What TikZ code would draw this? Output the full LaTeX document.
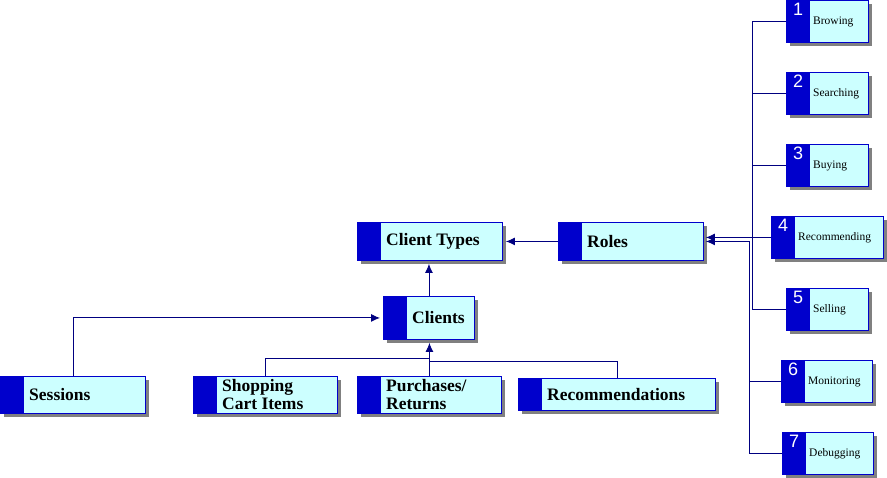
\documentclass[tikz,border=0pt]{standalone}
\usepackage{fontspec}
\setmainfont{Liberation Serif}
\setsansfont{Liberation Sans}
\usepackage{tikz}
\usetikzlibrary{shadows,arrows.meta,calc}

\definecolor{bandblue}{HTML}{0000CC}
\definecolor{boxcyan}{HTML}{CCFFFF}
\definecolor{linenavy}{HTML}{000080}
\definecolor{shadowgray}{HTML}{808080}

\tikzset{
  entity/.style 2 args={draw=bandblue, fill=boxcyan, line width=0.9pt, rectangle,
    inner sep=0pt, anchor=north west, minimum width=#1, minimum height=#2,
    path picture={\fill[bandblue] (path picture bounding box.north west)
      rectangle ([xshift=24pt]path picture bounding box.south west);},
    drop shadow={shadow xshift=3.5pt, shadow yshift=-3.5pt, fill=shadowgray, opacity=1}},
  bigname/.style={label={[anchor=west, xshift=29pt, inner sep=0pt, align=left,
    font=\bfseries\fontsize{17.5}{18}\selectfont]west:{#1}}},
  smallname/.style={label={[anchor=west, xshift=27pt, inner sep=0pt,
    font=\fontsize{11.5}{12}\selectfont]west:{#1}}},
  number/.style={label={[anchor=north west, xshift=7pt, yshift=-3pt, inner sep=0pt,
    text=white, font=\sffamily\fontsize{18}{18}\selectfont]north west:{#1}}},
  conn/.style={draw=linenavy, line width=0.9pt},
  tip/.style={-{Latex[length=9pt,width=8pt]}, shorten >=3pt}
}

\begin{document}
\begin{tikzpicture}[x=1pt, y=-1pt]
  \useasboundingbox (0,0) rectangle (887,478);
  % Coordinates
  \coordinate (ra) at (752,0);
  \coordinate (rb) at (749,0);
  \coordinate (cbus) at (429,358);
  \coordinate (rbus) at (429,361);
  % Entities
  \node[entity={145pt}{38pt}, bigname={Client Types}] (types) at (357,222) {};
  \node[entity={145pt}{38pt}, bigname={Roles}] (roles) at (558,222) {};
  \node[entity={91pt}{43pt}, bigname={Clients}] (clients) at (383,296) {};
  \node[entity={145pt}{37pt}, bigname={Sessions}] (sessions) at (0,376) {};
  \node[entity={144pt}{37pt}, bigname={Shopping\\Cart Items}] (cart) at (193,376) {};
  \node[entity={144pt}{37pt}, bigname={Purchases/\\Returns}] (purchases) at (357,376) {};
  \node[entity={197pt}{32pt}, bigname={Recommendations}] (recs) at (518,378) {};
  % Role boxes
  \node[entity={82pt}{42pt}, number=1, smallname={Browing}] (r1) at (786,0) {};
  \node[entity={82pt}{42pt}, number=2, smallname={Searching}] (r2) at (786,72) {};
  \node[entity={82pt}{42pt}, number=3, smallname={Buying}] (r3) at (786,144) {};
  \node[entity={112pt}{42pt}, number=4, smallname={Recommending}] (r4) at (771,216) {};
  \node[entity={82pt}{42pt}, number=5, smallname={Selling}] (r5) at (786,288) {};
  \node[entity={91pt}{42pt}, number=6, smallname={Monitoring}] (r6) at (781,360) {};
  \node[entity={91pt}{42pt}, number=7, smallname={Debugging}] (r7) at (782,432) {};
  % Connectors
  \draw[conn, tip] (roles.west) -- (types.east);
  \draw[conn, tip] (clients.north) -- (clients.north |- types.south);
  \draw[conn, tip] (sessions.north) |- (clients.west);
  \draw[conn, tip] (purchases.north) -- (purchases.north |- clients.south);
  \draw[conn] (cart.north) |- (cbus);
  \draw[conn] (recs.north) |- (rbus);
  % Role bus
  \draw[conn] (r1.west) -| (ra |- r5.west) -- (r5.west);
  \foreach \r in {r2,r3} {
    \draw[conn] (\r.west) -- (ra |- \r.west);
  }
  \draw[conn, tip, shorten >=2pt] (r4.west) -- (r4.west -| roles.east);
  \draw[conn, tip, shorten >=2pt] (r7.west) -| (rb |- roles.east) -- (roles.east);
  \draw[conn] (r6.west) -- (rb |- r6.west);
\end{tikzpicture}
\end{document}
